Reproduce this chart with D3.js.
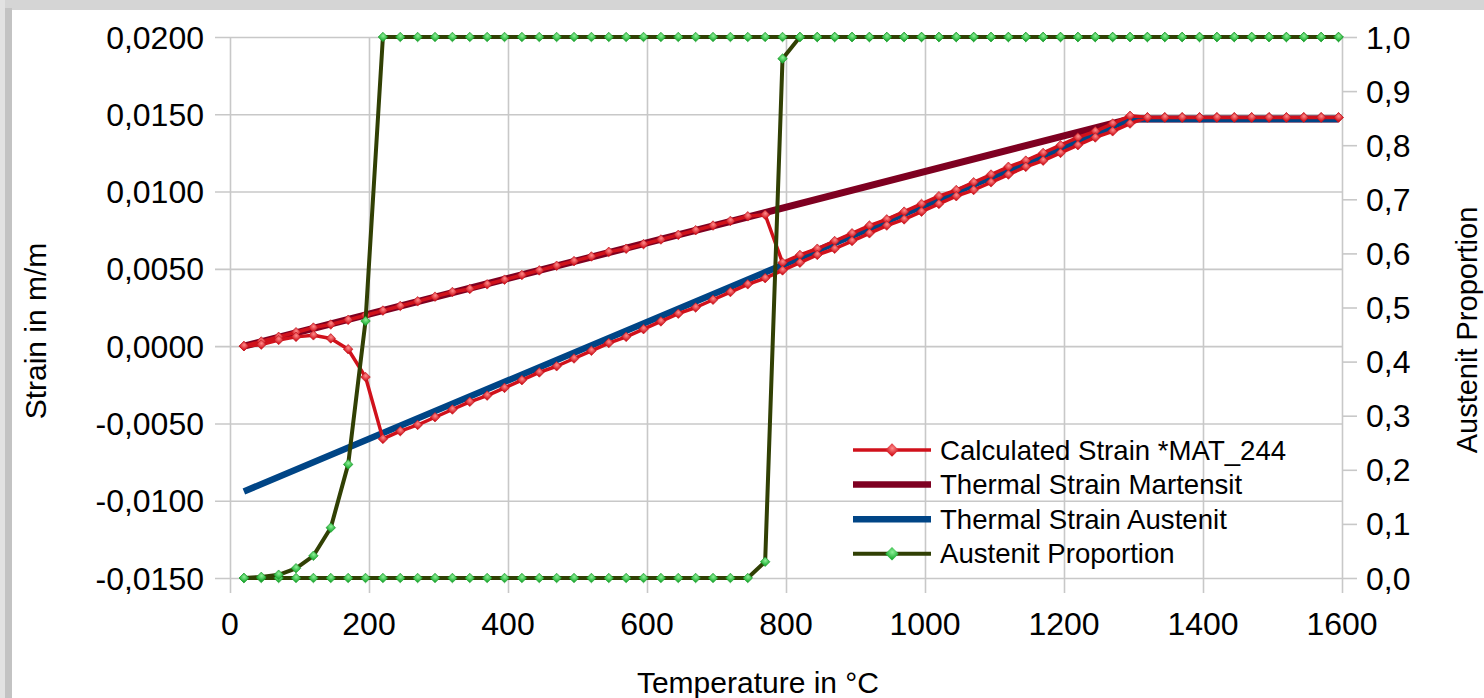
<html>
<head>
<meta charset="utf-8">
<style>
  body { margin: 0; background: #fff; }
  text { font-family: "Liberation Sans", Arial, sans-serif; fill: #000; }
</style>
</head>
<body>
<div id="chart"></div>
<script src="https://d3js.org/d3.v7.min.js"></script>
<script>
// temperature steps of the simulation, in degC
var tempC = [20,45,70,95,120,145,170,195,220,245,270,295,320,345,370,395,420,445,470,495,
  520,545,570,595,620,645,670,695,720,745,770,795,820,845,870,895,920,945,970,995,
  1020,1045,1070,1095,1120,1145,1170,1195,1220,1245,1270,1295,1320,1345,1370,1395,1420,1445,
  1470,1495,1520,1545,1570,1595]

// calculated strain *MAT_244, heating branch (same order as tempC)
var strainHeat = [0.0000,0.0003,0.0006,0.0009,0.0012,0.0014,0.0017,0.0020,0.0023,0.0026,
  0.0029,0.0032,0.0035,0.0037,0.0040,0.0043,0.0046,0.0049,0.0052,0.0055,
  0.0058,0.0061,0.0063,0.0066,0.0069,0.0072,0.0075,0.0078,0.0081,0.0084,
  0.0085,0.0054,0.0059,0.0063,0.0068,0.0073,0.0078,0.0082,0.0087,0.0092,
  0.0097,0.0101,0.0106,0.0111,0.0116,0.0120,0.0125,0.0130,0.0135,0.0139,
  0.0144,0.0149,0.0148,0.0148,0.0148,0.0148,0.0148,0.0148,0.0148,0.0148,
  0.0148,0.0148,0.0148,0.0148]

// calculated strain, cooling branch (same order as tempC, drawn backwards)
var strainCool = [0.0000,0.0001,0.0004,0.0006,0.0007,0.0005,-0.0002,-0.0020,-0.0060,-0.0055,
  -0.0051,-0.0046,-0.0041,-0.0036,-0.0032,-0.0027,-0.0022,-0.0017,-0.0013,-0.0008,
  -0.0003,0.0002,0.0006,0.0011,0.0016,0.0021,0.0025,0.0030,0.0035,0.0040,
  0.0044,0.0049,0.0054,0.0059,0.0063,0.0068,0.0073,0.0078,0.0082,0.0087,
  0.0092,0.0097,0.0101,0.0106,0.0111,0.0116,0.0120,0.0125,0.0130,0.0135,
  0.0139,0.0144,0.0148,0.0148,0.0148,0.0148,0.0148,0.0148,0.0148,0.0148,
  0.0148,0.0148,0.0148,0.0148]

// austenite proportion, heating and cooling
var propHeat = [0,0,0,0,0,0,0,0,0,0,0,0,0,0,0,0,0,0,0,0,0,0,0,0,0,0,0,0,0,0,
  0.03,0.96,1,1,1,1,1,1,1,1,1,1,1,1,1,1,1,1,1,1,1,1,1,1,1,1,1,1,1,1,1,1,1,1]
var propCool = [0,0.002,0.006,0.018,0.041,0.093,0.21,0.475,1,1,1,1,1,1,1,1,1,1,1,1,
  1,1,1,1,1,1,1,1,1,1,1,1,1,1,1,1,1,1,1,1,1,1,1,1,1,1,1,1,1,1,
  1,1,1,1,1,1,1,1,1,1,1,1,1,1]

// thermal strain lines (corner points)
var thermT = [20, 1295, 1595]
var martensitStrain = [0.0000, 0.0147, 0.0147]
var austenitStrain = [-0.0094, 0.0147, 0.0147]

var xTicks = [0,200,400,600,800,1000,1200,1400,1600]
var yTicks = [-0.015,-0.01,-0.005,0,0.005,0.01,0.015,0.02]
var y2Ticks = [0,0.1,0.2,0.3,0.4,0.5,0.6,0.7,0.8,0.9,1.0]

var legendNames = ["Calculated Strain *MAT_244","Thermal Strain Martensit","Thermal Strain Austenit","Austenit Proportion"]

var width = 1484, height = 698

var svg = d3.select("#chart").append("svg")
    .attr("width", width).attr("height", height)

// window shadow frame
svg.append("rect").attr("x",0).attr("y",0).attr("width",width).attr("height",10).attr("fill","#d5d5d5")
svg.append("rect").attr("x",0).attr("y",0).attr("width",5).attr("height",height).attr("fill","#e2e2e2")
svg.append("rect").attr("x",5).attr("y",8).attr("width",7).attr("height",height).attr("fill","#c3c3c3")
svg.append("rect").attr("x",12).attr("y",10).attr("width",width-12).attr("height",height-10).attr("fill","#fff")

var x = d3.scaleLinear().domain([0,1600]).range([230,1342])
var y = d3.scaleLinear().domain([-0.015,0.02]).range([578,37])
var y2 = d3.scaleLinear().domain([0,1]).range([578,37])

var comma = function(f){ return function(d){ return d3.format(f)(d).replace(".",",").replace("−","-") } }

var gridColor = "#c8c8c8"

// gridlines via axes
svg.append("g").attr("transform","translate(230,0)")
    .call(d3.axisLeft(y).tickValues(yTicks).tickSize(-(1342-230+15)).tickFormat(""))
    .call(function(g){ g.select(".domain").remove() })
    .selectAll("line").attr("stroke",gridColor).attr("stroke-width",1.6)
    .attr("transform","translate(-15,0)")

svg.append("g").attr("transform","translate(0,578)")
    .call(d3.axisBottom(x).tickValues(xTicks).tickSize(-(578-37)).tickFormat(""))
    .call(function(g){ g.select(".domain").remove() })
    .selectAll("line").attr("stroke",gridColor).attr("stroke-width",1.6)
svg.append("g").attr("transform","translate(0,578)")
    .call(d3.axisBottom(x).tickValues(xTicks).tickSize(15).tickFormat(""))
    .call(function(g){ g.select(".domain").remove() })
    .selectAll("line").attr("stroke",gridColor).attr("stroke-width",1.6)

// right axis ticks
svg.append("g").attr("transform","translate(1342,0)")
    .call(d3.axisRight(y2).tickValues(y2Ticks).tickSize(15).tickFormat(""))
    .call(function(g){ g.select(".domain").remove() })
    .selectAll("line").attr("stroke",gridColor).attr("stroke-width",1.6)

// tick labels
var tickFont = 32
svg.append("g").selectAll("text").data(yTicks).join("text")
    .attr("x",204).attr("y",function(d){ return y(d)+11.5 })
    .attr("text-anchor","end").attr("font-size",tickFont)
    .text(comma(".4f"))
svg.append("g").selectAll("text").data(y2Ticks).join("text")
    .attr("x",1366).attr("y",function(d){ return y2(d)+11.5 })
    .attr("font-size",tickFont)
    .text(comma(".1f"))
svg.append("g").selectAll("text").data(xTicks).join("text")
    .attr("x",function(d){ return x(d) }).attr("y",635)
    .attr("text-anchor","middle").attr("font-size",tickFont)
    .text(function(d){ return d })

// axis titles
svg.append("text").attr("x",758).attr("y",693).attr("text-anchor","middle")
    .attr("font-size",30).text("Temperature in °C")
svg.append("text").attr("transform","translate(46,331) rotate(-90)").attr("text-anchor","middle")
    .attr("font-size",30).text("Strain in m/m")
svg.append("text").attr("transform","translate(1477,330) rotate(-90)").attr("text-anchor","middle")
    .attr("font-size",29).text("Austenit Proportion")

// gradients for the 3d-looking markers
var defs = svg.append("defs")
function grad(id, c1, c2){
  var g = defs.append("radialGradient").attr("id",id).attr("cx","40%").attr("cy","35%").attr("r","70%")
  g.append("stop").attr("offset","0%").attr("stop-color",c1)
  g.append("stop").attr("offset","100%").attr("stop-color",c2)
}
grad("redMark","#ff8c8c","#d2141e")
grad("greenMark","#8ef098","#1fae34")

var colRed = "#d0111b", colMart = "#7e0021", colAust = "#004586", colProp = "#314004"

// series as point lists
var calcPts = tempC.map(function(t,i){ return [t, strainHeat[i]] })
    .concat(tempC.map(function(t,i){ return [t, strainCool[i]] }).reverse())
var propPts = tempC.map(function(t,i){ return [t, propHeat[i]] })
    .concat(tempC.map(function(t,i){ return [t, propCool[i]] }).reverse())
var martPts = thermT.map(function(t,i){ return [t, martensitStrain[i]] })
var austPts = thermT.map(function(t,i){ return [t, austenitStrain[i]] })

var lineY = d3.line().x(function(d){ return x(d[0]) }).y(function(d){ return y(d[1]) })
var lineY2 = d3.line().x(function(d){ return x(d[0]) }).y(function(d){ return y2(d[1]) })

svg.append("path").attr("d",lineY(martPts)).attr("fill","none")
    .attr("stroke",colMart).attr("stroke-width",7)
svg.append("path").attr("d",lineY(austPts)).attr("fill","none")
    .attr("stroke",colAust).attr("stroke-width",6.5)

svg.append("path").attr("d",lineY(calcPts)).attr("fill","none")
    .attr("stroke",colRed).attr("stroke-width",3.5).attr("stroke-linejoin","round")
var diamond = d3.symbol().type(d3.symbolSquare).size(46)
svg.append("g").selectAll("path").data(calcPts).join("path")
    .attr("d",diamond)
    .attr("transform",function(d){ return "translate("+x(d[0])+","+y(d[1])+") rotate(45)" })
    .attr("fill","url(#redMark)").attr("stroke","#c0141c").attr("stroke-width",0.6)

svg.append("path").attr("d",lineY2(propPts)).attr("fill","none")
    .attr("stroke",colProp).attr("stroke-width",4).attr("stroke-linejoin","round")
svg.append("g").selectAll("path").data(propPts).join("path")
    .attr("d",diamond)
    .attr("transform",function(d){ return "translate("+x(d[0])+","+y2(d[1])+") rotate(45)" })
    .attr("fill","url(#greenMark)").attr("stroke","#1e9a2c").attr("stroke-width",0.6)

// legend
var legCols = [colRed, colMart, colAust, colProp]
var legW = [3.5, 6.5, 6.5, 4]
var legMark = ["url(#redMark)", null, null, "url(#greenMark)"]
var leg = svg.append("g").selectAll("g").data(legendNames).join("g")
    .attr("transform",function(d,i){ return "translate(853,"+(450+i*34.6)+")" })
leg.append("line").attr("x1",0).attr("x2",78).attr("y1",0).attr("y2",0)
    .attr("stroke",function(d,i){ return legCols[i] })
    .attr("stroke-width",function(d,i){ return legW[i] })
leg.filter(function(d,i){ return legMark[i] }).append("path")
    .attr("d",d3.symbol().type(d3.symbolSquare).size(90))
    .attr("transform","translate(39,0) rotate(45)")
    .attr("fill",function(d){ return legMark[legendNames.indexOf(d)] })
leg.append("text").attr("x",87).attr("y",9.5).attr("font-size",27.6).text(function(d){ return d })
</script>
</body>
</html>
